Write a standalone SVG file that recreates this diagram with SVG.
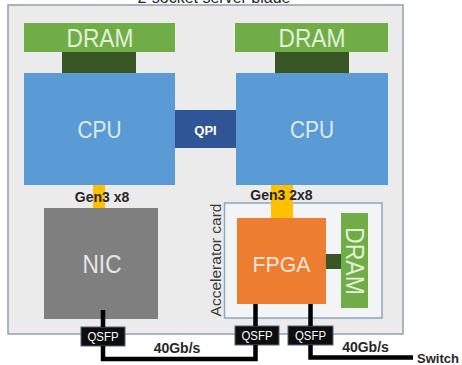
<svg xmlns="http://www.w3.org/2000/svg" width="462" height="365" viewBox="0 0 462 365">
<style>
  text { font-family: "Liberation Sans", Arial, sans-serif; }
  .dram { fill: #70ad47; }
  .dramlink { fill: #375623; }
  .cpu { fill: #5b9bd5; }
  .big { font-size: 25px; text-anchor: middle; }
  .lbl { font-size: 14px; font-weight: bold; fill: #262626; text-anchor: middle; }
  .qsfp { fill: #0d0d0d; stroke: #50677a; stroke-width: 1; }
  .qsfpt { font-size: 12px; fill: #ffffff; text-anchor: middle; }
  .pcie { fill: #ffc000; }
  .wire { fill: none; stroke: #000000; stroke-width: 4.5; stroke-linejoin: miter; }
</style>
<rect width="462" height="365" fill="#ffffff"/>
<text x="214" y="3" font-size="16" text-anchor="middle" fill="#262626">2-socket server blade</text>
<g id="blade">
  <rect x="8" y="5" width="395" height="329" fill="#ebebeb" stroke="#8fa0b3" stroke-width="1.5"/>
</g>
<g id="dram-left">
  <rect class="dram" x="24" y="23" width="151" height="29"/>
  <text class="big" x="100" y="47" fill="#e2f0d9" textLength="67" lengthAdjust="spacingAndGlyphs">DRAM</text>
</g>
<g id="dram-right">
  <rect class="dram" x="235" y="23" width="153" height="29"/>
  <text class="big" x="312" y="47" fill="#e2f0d9" textLength="67" lengthAdjust="spacingAndGlyphs">DRAM</text>
</g>
<g id="cpu-left">
  <rect class="cpu" x="24" y="73" width="151" height="112"/>
  <text x="99.5" y="138" font-size="23.5" text-anchor="middle" fill="#deebf7" textLength="44" lengthAdjust="spacingAndGlyphs">CPU</text>
</g>
<g id="cpu-right">
  <rect class="cpu" x="236" y="73" width="152" height="112"/>
  <text x="312" y="138" font-size="23.5" text-anchor="middle" fill="#deebf7" textLength="44" lengthAdjust="spacingAndGlyphs">CPU</text>
</g>
<g id="qpi">
  <rect x="175" y="110" width="61" height="38" fill="#2f5597"/>
  <text x="205.5" y="135" font-size="13" font-weight="bold" text-anchor="middle" fill="#ffffff">QPI</text>
</g>
<g id="accelerator-card">
  <rect x="224.5" y="203" width="157.5" height="115" fill="#f3f4f6" stroke="#8fa8c0" stroke-width="1.5"/>
  <text transform="translate(221,260) rotate(-90)" font-size="15.5" text-anchor="middle" fill="#3a3a3a">Accelerator card</text>
</g>
<g id="nic">
  <rect x="44" y="208" width="114" height="111" fill="#7f7f7f"/>
  <text x="102" y="273" font-size="25" text-anchor="middle" fill="#e6e6e6" textLength="39" lengthAdjust="spacingAndGlyphs">NIC</text>
</g>
<g id="fpga">
  <rect x="237" y="218" width="89" height="86" fill="#ed7d31"/>
  <text x="281.5" y="272" font-size="22" text-anchor="middle" fill="#fbe5d6" textLength="58" lengthAdjust="spacingAndGlyphs">FPGA</text>
</g>
<g id="dram-card">
  <rect class="dram" x="341" y="213" width="27" height="95"/>
  <text class="big" transform="translate(345.5,261) rotate(90)" fill="#e2f0d9" textLength="68" lengthAdjust="spacingAndGlyphs">DRAM</text>
</g>
<g id="qsfp-nic">
  <rect class="qsfp" x="81" y="327" width="44" height="19"/>
  <text class="qsfpt" x="103" y="341" textLength="31" lengthAdjust="spacingAndGlyphs">QSFP</text>
</g>
<g id="qsfp-fpga-1">
  <rect class="qsfp" x="235" y="326" width="44" height="19"/>
  <text class="qsfpt" x="257" y="340" textLength="31" lengthAdjust="spacingAndGlyphs">QSFP</text>
</g>
<g id="qsfp-fpga-2">
  <rect class="qsfp" x="288" y="326" width="45" height="19"/>
  <text class="qsfpt" x="310.5" y="340" textLength="31" lengthAdjust="spacingAndGlyphs">QSFP</text>
</g>
<g id="switch">
  <text x="417" y="363" font-size="13" font-weight="bold" fill="#262626">Switch</text>
</g>
<g id="connectors">
  <rect class="dramlink" x="62" y="52" width="74" height="21"/>
  <rect class="dramlink" x="275" y="52" width="74" height="21"/>
  <rect class="dramlink" x="326" y="254" width="15" height="15"/>
  <rect class="pcie" x="93" y="185" width="12" height="23"/>
  <rect class="pcie" x="271" y="185" width="22" height="33"/>
  <text class="lbl" x="102" y="202">Gen3 x8</text>
  <text class="lbl" x="281.5" y="200">Gen3 2x8</text>
  <path class="wire" d="M103,310 V327 M103,346 V359 H255.5 V345 M255.5,326 V304"/>
  <path class="wire" d="M310.5,304 V326 M310.5,345 V357.5 H413"/>
  <text class="lbl" x="177" y="353">40Gb/s</text>
  <text class="lbl" x="365.5" y="352">40Gb/s</text>
</g>
</svg>
